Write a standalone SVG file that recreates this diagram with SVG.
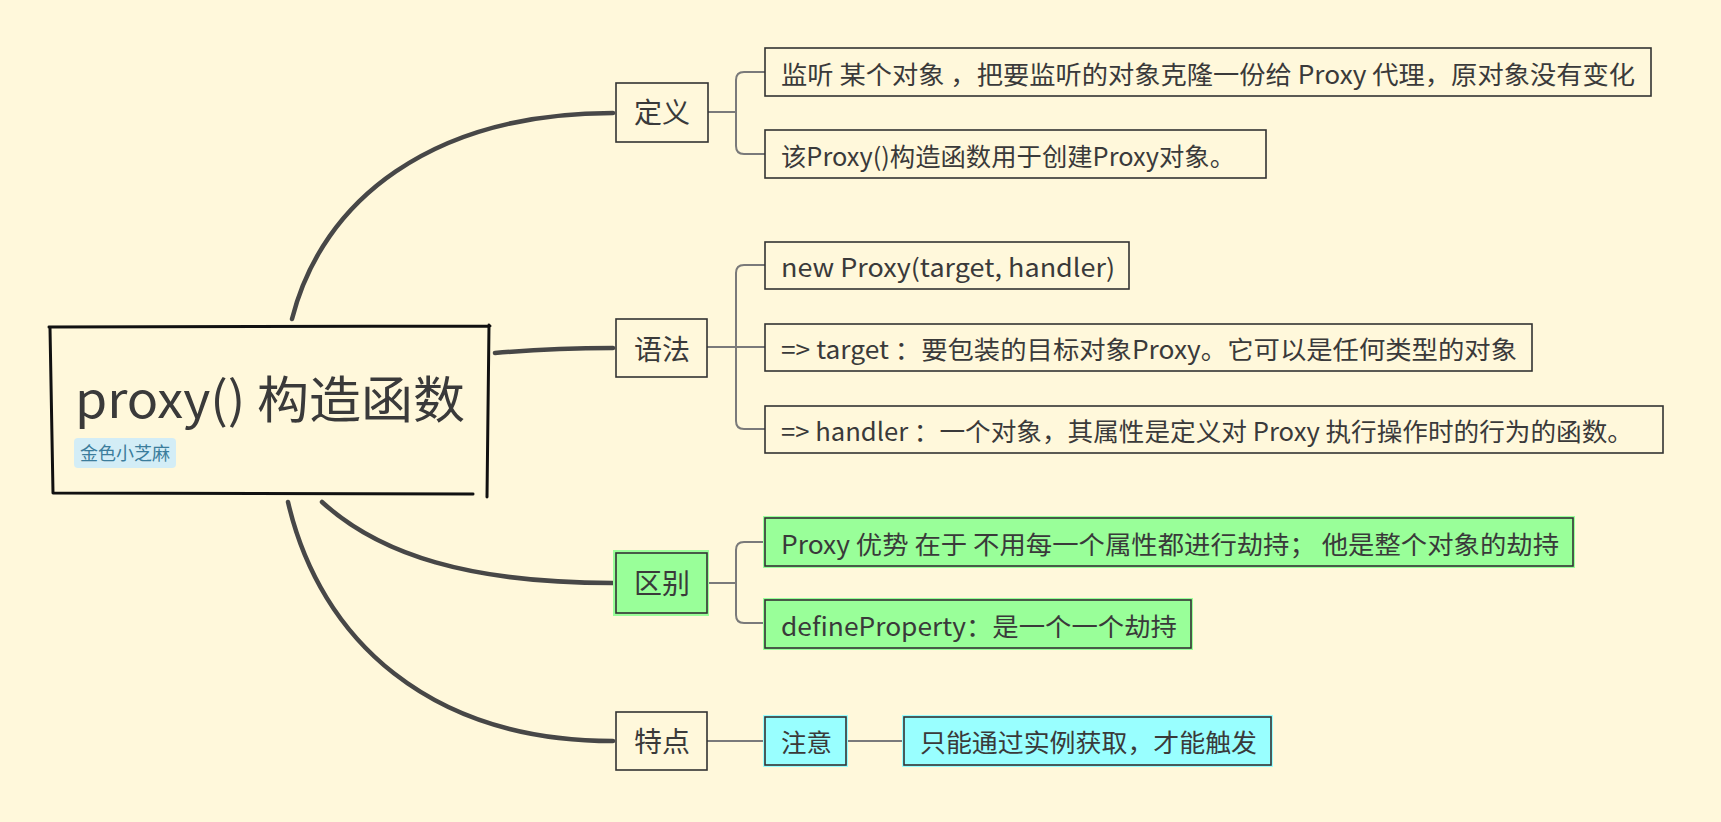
<svg xmlns="http://www.w3.org/2000/svg" width="1721" height="822" viewBox="0 0 1721 822">
<style>
  text { font-family: "Noto Sans CJK SC", "Noto Sans", sans-serif; fill: #3a3a3a; }
  .main { fill: none; stroke: #474747; stroke-width: 4.5; stroke-linecap: round; }
  .sub { fill: none; stroke: #7a7a7a; stroke-width: 2; }
  .box { fill: none; stroke: #333; stroke-width: 1.6; }
  .node { font-size: 28px; text-anchor: middle; }
  .leaf { font-size: 25px; }
  .green { fill: #99ff99; }
  .cyan { fill: #99ffff; }
</style>
<rect width="1721" height="822" fill="#fff8db"/>

<g id="connectors">
  <path class="main" d="M292,319 C322,200 432,113 613,113"/>
  <path class="main" d="M495,353 C540,349 575,348 613,348"/>
  <path class="main" d="M322,502 C380,555 470,583 613,583"/>
  <path class="main" d="M288,502 C320,640 430,741 613,741"/>
  <path class="sub" d="M708,112 H736 M765,72 H744 Q736,72 736,80 V146 Q736,154 744,154 H765"/>
  <path class="sub" d="M707,347 H765 M765,265 H744 Q736,265 736,273 V421 Q736,429 744,429 H765"/>
  <path class="sub" d="M708,583 H736 M763,542 H744 Q736,542 736,550 V615 Q736,623 744,623 H763"/>
  <path class="sub" d="M707,741 H763 M847,741 H902"/>
</g>

<g id="root">
  <path d="M49,327 L490,326 M489,325 L487,497 M53,493 L473,494 M50,328 L53,493" fill="none" stroke="#111" stroke-width="3" stroke-linecap="round"/>
  <text x="75" y="418" font-size="50" textLength="390" lengthAdjust="spacingAndGlyphs">proxy() 构造函数</text>
  <rect x="74" y="438" width="102" height="30" rx="4" fill="#d3edf6"/>
  <text x="80" y="460" font-size="18" style="fill:#3b7d9c" textLength="90" lengthAdjust="spacingAndGlyphs">金色小芝麻</text>
</g>

<g id="n-dingyi">
  <rect class="box" x="616" y="83" width="92" height="59"/>
  <text class="node" x="662" y="123">定义</text>
</g>
<g id="n-dingyi-1">
  <rect class="box" x="765" y="48" width="886" height="48"/>
  <text class="leaf" x="781" y="84" textLength="854" lengthAdjust="spacingAndGlyphs">监听 某个对象 ，把要监听的对象克隆一份给 Proxy 代理，原对象没有变化</text>
</g>
<g id="n-dingyi-2">
  <rect class="box" x="765" y="130" width="501" height="48"/>
  <text class="leaf" x="781" y="166" textLength="454" lengthAdjust="spacingAndGlyphs">该Proxy()构造函数用于创建Proxy对象。</text>
</g>

<g id="n-yufa">
  <rect class="box" x="616" y="319" width="91" height="58"/>
  <text class="node" x="662" y="360">语法</text>
</g>
<g id="n-yufa-1">
  <rect class="box" x="765" y="242" width="364" height="47"/>
  <text class="leaf" x="781" y="277" textLength="334" lengthAdjust="spacingAndGlyphs">new Proxy(target, handler)</text>
</g>
<g id="n-yufa-2">
  <rect class="box" x="765" y="324" width="767" height="47"/>
  <text class="leaf" x="781" y="359" textLength="736" lengthAdjust="spacingAndGlyphs">=&gt; target ：要包装的目标对象Proxy。它可以是任何类型的对象</text>
</g>
<g id="n-yufa-3">
  <rect class="box" x="765" y="406" width="898" height="47"/>
  <text class="leaf" x="781" y="441" textLength="852" lengthAdjust="spacingAndGlyphs">=&gt; handler ：一个对象，其属性是定义对 Proxy 执行操作时的行为的函数。</text>
</g>

<g id="n-qubie">
  <rect class="green" x="613" y="550" width="96" height="66"/>
  <rect class="box" x="616" y="553" width="91" height="60"/>
  <text class="node" x="662" y="594">区别</text>
</g>
<g id="n-qubie-1">
  <rect class="green" x="763" y="516" width="812" height="52"/>
  <rect class="box" x="765" y="518" width="808" height="48"/>
  <text class="leaf" x="781" y="554" textLength="778" lengthAdjust="spacingAndGlyphs">Proxy 优势 在于 不用每一个属性都进行劫持； 他是整个对象的劫持</text>
</g>
<g id="n-qubie-2">
  <rect class="green" x="763" y="598" width="430" height="52"/>
  <rect class="box" x="765" y="600" width="426" height="48"/>
  <text class="leaf" x="781" y="636" textLength="396" lengthAdjust="spacingAndGlyphs">defineProperty：是一个一个劫持</text>
</g>

<g id="n-tedian">
  <rect class="box" x="616" y="712" width="91" height="58"/>
  <text class="node" x="662" y="752">特点</text>
</g>
<g id="n-zhuyi">
  <rect class="cyan" x="763" y="715" width="85" height="52"/>
  <rect class="box" x="765" y="717" width="81" height="48"/>
  <text class="leaf" x="781" y="752" textLength="51" lengthAdjust="spacingAndGlyphs">注意</text>
</g>
<g id="n-zhineng">
  <rect class="cyan" x="902" y="715" width="371" height="52"/>
  <rect class="box" x="904" y="717" width="367" height="48"/>
  <text class="leaf" x="920" y="752" textLength="337" lengthAdjust="spacingAndGlyphs">只能通过实例获取，才能触发</text>
</g>
</svg>
